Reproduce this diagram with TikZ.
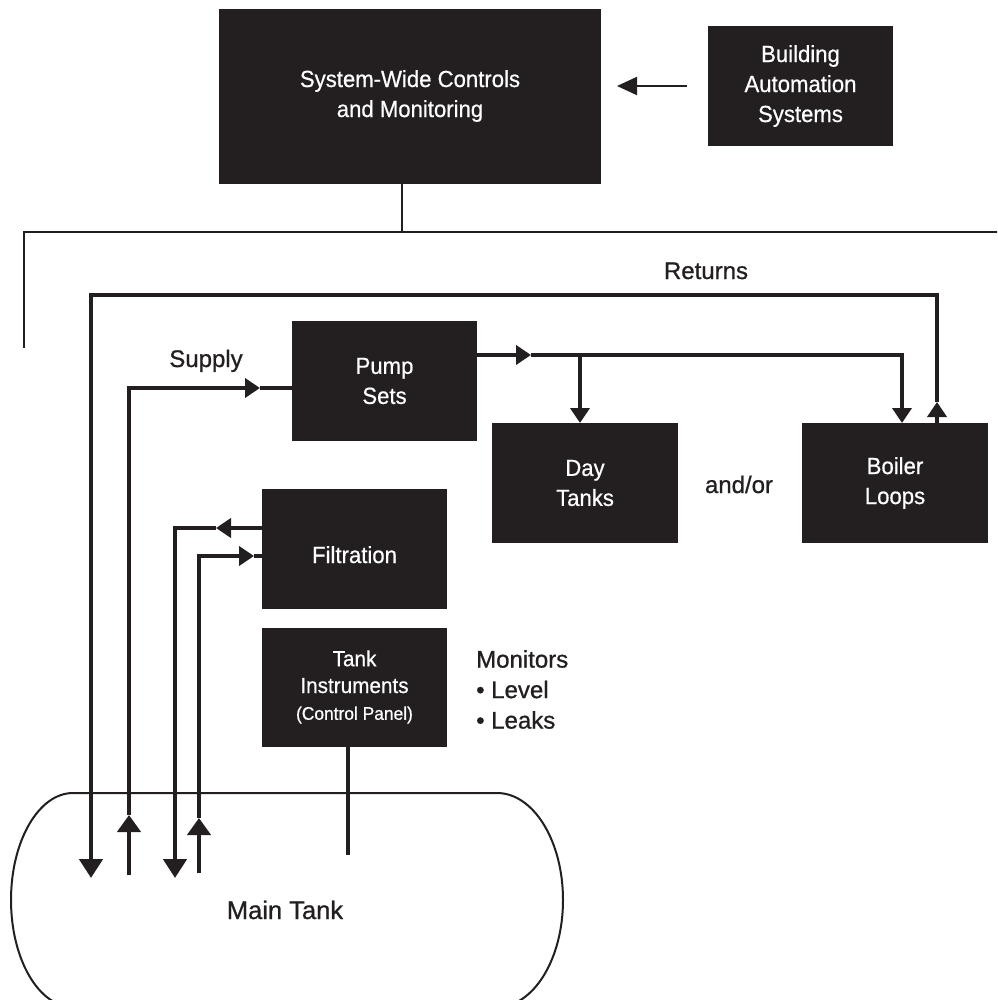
\documentclass[tikz,border=0pt]{standalone}
\usepackage{fontspec}
\setmainfont{Liberation Sans}[FakeStretch=0.95, FakeBold=0.6]
\newfontfamily\lblfam{Liberation Sans}[FakeBold=0.9]
\usetikzlibrary{arrows.meta}
\definecolor{ink}{HTML}{231F20}
\newcommand\boxfont{\fontsize{23.3}{30}\selectfont}
\newcommand\lblfont{\lblfam\fontsize{24}{30.5}\selectfont}
\tikzset{
  box/.style={fill=ink, draw=none, text=white, align=center, font=\boxfont, inner sep=0pt},
  btext/.style={text=white, align=center, font=\boxfont, inner sep=0pt},
  pipe/.style={draw=ink, line width=4.6pt},
  wire/.style={draw=ink, line width=2pt},
  tipS/.style={-{Triangle[length=15pt,width=19pt]}},
  tipB/.style={-{Triangle[length=19pt,width=23pt]}},
  tipU/.style={-{Triangle[length=17pt,width=23pt]}},
  lbl/.style={text=ink, font=\lblfont, inner sep=0pt},
}
\begin{document}
\begin{tikzpicture}[x=1pt,y=-1pt]
\useasboundingbox (0,0) rectangle (997,1000);
\clip (0,0) rectangle (997,1000);

% boxes
\node[box, minimum width=382pt, minimum height=175pt] (ctrl) at (410,96.5) {};
\node[btext] (ctrltxt) at (410,96) {System-Wide Controls\\and Monitoring};
\node[box, minimum width=185pt, minimum height=120pt] (bas) at (800.5,86) {Building\\Automation\\Systems};
\node[box, minimum width=185pt, minimum height=120pt] (pump) at (384.5,381) {Pump\\Sets};
\node[box, minimum width=186pt, minimum height=120pt] (day) at (585,483) {Day\\Tanks};
\node[box, minimum width=186pt, minimum height=120pt] (boiler) at (895,483) {Boiler\\Loops};
\node[box, minimum width=185pt, minimum height=120pt, text height=28pt, text depth=0pt] (filt) at (354.5,549) {Filtration};
\node[box, minimum width=185pt, minimum height=119pt, font=\fontsize{21.8}{26.8}\selectfont] (inst) at (354.5,687)
  {Tank\\Instruments\\{\fontsize{18.3}{26.8}\selectfont (Control Panel)}};

% labels
\node[lbl, anchor=base] (returns) at (706,279) {Returns};
\node[lbl, anchor=base] (supply) at (206,367) {Supply};
\node[lbl, anchor=base] (andor) at (739,493) {and/or};
\node[lbl, anchor=north west, align=left] (monitors) at (476,650) {Monitors\\• Level\\• Leaks};
\node[lbl, anchor=base, font=\lblfam\fontsize{25.5}{30}\selectfont] (maintank) at (285,919) {Main Tank};

% main tank
\draw[wire] (73,793) coordinate (tankTL) -- (497,793)
  arc[start angle=90, end angle=-90, x radius=66pt, y radius=107pt]
  -- (73,1007) arc[start angle=270, end angle=90, x radius=62pt, y radius=107pt] -- cycle;

% control wiring
\coordinate (bus) at (402,232);
\coordinate (busL) at (24,232);
\coordinate (busR) at (1000,232);
\coordinate (busEnd) at (24,348);
\draw[wire] (ctrl.south -| bus) -- (bus);
\draw[wire] (busEnd) -- (busL) -- (busR);
\coordinate (basOut) at (687,86);
\coordinate (ctrlIn) at (617,86);
\draw[wire, -{Triangle[length=20pt,width=18pt]}] (basOut) -- (ctrlIn);

% returns
\coordinate (retOut) at (937,423);
\coordinate (retTip) at (937,402);
\coordinate (retIn) at (91,878);
\draw[pipe, tipS] (retOut) -- (retTip);
\draw[pipe, tipB] (retTip) -- (937,295) -- (91,295) -- (retIn);

% supply
\coordinate (supOut) at (129,875);
\coordinate (supTip) at (129,815);
\coordinate (supMid) at (260,388);
\coordinate (pumpIn) at (292,388);
\draw[pipe, tipU] (supOut) -- (supTip);
\draw[pipe, tipS] (supTip) |- (supMid);
\draw[pipe] (supMid) -- (pumpIn);

% pump out
\coordinate (pumpOut) at (477,355);
\coordinate (pumpMid) at (531,355);
\coordinate (dayIn) at (580,423);
\coordinate (boilIn) at (902,423);
\draw[pipe, tipS] (pumpOut) -- (pumpMid);
\draw[pipe, tipS] (pumpMid) -| (boilIn);
\draw[pipe, tipS] (dayIn |- pumpOut) -- (dayIn);

% filtration out
\coordinate (filtOut) at (262,528);
\coordinate (filtMid) at (216,528);
\coordinate (filtRet) at (175,878);
\draw[pipe, tipS] (filtOut) -- (filtMid);
\draw[pipe, tipB] (filtMid) -| (filtRet);

% filtration in
\coordinate (fiOut) at (199,873);
\coordinate (fiTip) at (199,818);
\coordinate (fiMid) at (254,556);
\coordinate (filtIn) at (262,556);
\draw[pipe, tipU] (fiOut) -- (fiTip);
\draw[pipe, tipS] (fiTip) |- (fiMid);
\draw[pipe] (fiMid) -- (filtIn);

% instrument probe
\coordinate (probeTop) at (348,744);
\coordinate (probeEnd) at (348,855);
\draw[pipe] (probeTop) -- (probeEnd);
\end{tikzpicture}
\end{document}
